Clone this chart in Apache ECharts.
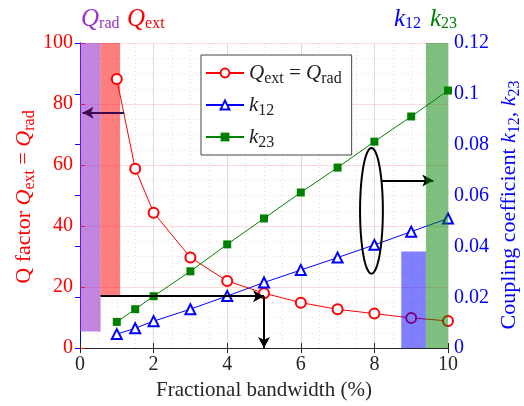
<!DOCTYPE html>
<html>
<head>
<meta charset="utf-8">
<script src="https://cdn.jsdelivr.net/npm/echarts@6/dist/echarts.min.js"></script>
<style>
  html, body { margin: 0; padding: 0; background: #fff; }
  #chart { width: 524px; height: 406px; }
</style>
</head>
<body>
<div id="chart"></div>
<script>
// 数据 (fractional bandwidth in %)
const bandwidth = [1, 1.5, 2, 3, 4, 5, 6, 7, 8, 9, 10];
const qExt = [88.2, 58.8, 44.4, 29.7, 22.0, 18.0, 14.9, 12.7, 11.3, 9.9, 8.9];
const k12 = [0.0055, 0.0078, 0.0106, 0.0153, 0.0205, 0.0258, 0.0307, 0.0356, 0.0406, 0.0458, 0.0510];
const k23 = [0.0103, 0.0153, 0.0204, 0.0302, 0.0408, 0.0510, 0.0612, 0.0710, 0.0812, 0.0911, 0.1013];

// shaded ranges: [x0, x1, y0, y1]
const qradBand = [0, 0.56, 5.4, 100];
const qextBand = [0.56, 1.09, 17.0, 100];
const k12Band = [8.73, 9.4, 0, 0.038];
const k23Band = [9.4, 10, 0, 0.12];

// annotation arrows in (bandwidth, Q) coords: [x0, y0, x1, y1]
const arrowDesign = [[0.56, 17.0, 5, 17.0], [5, 17.0, 5, 0]];
const arrowQrad = [1.2, 77.1, 0.07, 77.1];
const arrowK = [8.2, 54.9, 9.6, 54.9];
// ellipse: centre x, centre Q, radius x, radius Q
const ellipse = [7.92, 45.0, 0.31, 20.6];

const serif = 'serif';
const RED = '#ff0000', BLUE = '#0000ff', GREEN = '#008000', PURPLE = '#9933cc';

const chart = echarts.init(document.getElementById('chart'));

const zip = (xs, ys) => xs.map((x, i) => [x, ys[i]]);
const area = (b, color) => [{ xAxis: b[0], yAxis: b[2], itemStyle: { color: color } }, { xAxis: b[1], yAxis: b[3] }];
const arrow = (a, color) => [
  { coord: [a[0], a[1]], symbol: 'none', lineStyle: { color: color } },
  { coord: [a[2], a[3]], symbol: 'arrow' }
];

const subRich = {
  i: { fontFamily: serif, fontStyle: 'italic', fontSize: 21, lineHeight: 24 },
  n: { fontFamily: serif, fontSize: 21, lineHeight: 24 },
  s: { fontFamily: serif, fontSize: 16, lineHeight: 24, padding: [12, 0, 0, 0] }
};

const option = {
  animation: false,
  textStyle: { fontFamily: serif },
  grid: { left: 80, right: 76, top: 43, bottom: 57 },
  legend: {
    data: ['Q', 'k12', 'k23'],
    orient: 'vertical',
    left: 201,
    top: 55,
    width: 126,
    padding: [4, 10, 4, 4],
    itemGap: 4,
    itemWidth: 38,
    itemHeight: 11,
    backgroundColor: '#fff',
    borderColor: '#444',
    borderWidth: 1,
    textStyle: { color: '#222', fontFamily: serif, rich: subRich },
    formatter: (name) => ({
      Q: '{i|Q}{s|ext}{n| = }{i|Q}{s|rad}',
      k12: '{i|k}{s|12}',
      k23: '{i|k}{s|23}'
    })[name]
  },
  xAxis: [
    {
      type: 'value', min: 0, max: 10, interval: 2, position: 'bottom',
      name: 'Fractional bandwidth (%)', nameLocation: 'middle', nameGap: 31,
      nameTextStyle: { fontFamily: serif, fontSize: 21, color: '#262626' },
      axisLine: { lineStyle: { color: RED } },
      axisTick: { inside: true, length: 5, lineStyle: { color: '#262626' } },
      axisLabel: { fontFamily: serif, fontSize: 20, color: '#262626', margin: 7 },
      splitLine: { show: true, lineStyle: { color: '#dcdcdc' } },
      minorTick: { show: false, splitNumber: 4 },
      minorSplitLine: { show: true, lineStyle: { color: '#dddddd', type: [1, 3] } }
    },
    {
      type: 'value', min: 0, max: 10, interval: 2, position: 'top',
      axisLine: { lineStyle: { color: '#262626' } },
      axisTick: { inside: true, length: 5, lineStyle: { color: '#262626' } },
      axisLabel: { show: false },
      splitLine: { show: false }
    }
  ],
  yAxis: [
    {
      type: 'value', min: 0, max: 100, interval: 20, position: 'left',
      axisLine: { show: true, lineStyle: { color: RED } },
      axisTick: { show: true, inside: true, length: 5, lineStyle: { color: RED } },
      axisLabel: { fontFamily: serif, fontSize: 20, color: RED, margin: 7 },
      splitLine: { show: true, lineStyle: { color: 'rgba(255,0,0,0.15)' } },
      minorTick: { show: false, splitNumber: 4 },
      minorSplitLine: { show: true, lineStyle: { color: 'rgba(255,0,0,0.15)', type: [1, 3] } }
    },
    {
      type: 'value', min: 0, max: 0.12, interval: 0.02, position: 'right',
      axisLine: { show: true, lineStyle: { color: BLUE } },
      axisTick: { show: true, inside: true, length: 5, lineStyle: { color: BLUE } },
      axisLabel: { fontFamily: serif, fontSize: 20, color: BLUE, margin: 6 },
      splitLine: { show: false }
    }
  ],
  series: [
    {
      name: 'Q', type: 'line', xAxisIndex: 0, yAxisIndex: 0,
      data: zip(bandwidth, qExt),
      lineStyle: { width: 1, color: RED },
      symbol: 'emptyCircle', symbolSize: 10,
      itemStyle: { color: RED, borderWidth: 1 },
      z: 3,
      markArea: {
        silent: true,
        data: [area(qradBand, 'rgba(153,51,204,0.6)'), area(qextBand, 'rgba(255,0,0,0.5)')]
      },
      markLine: {
        silent: true,
        symbolSize: [9, 11],
        label: { show: false },
        lineStyle: { type: 'solid', width: 2, color: '#000' },
        data: arrowDesign.map(a => arrow(a, '#000'))
          .concat([arrow(arrowQrad, '#3d0a50'), arrow(arrowK, '#000')])
      }
    },
    {
      name: 'k12', type: 'line', xAxisIndex: 0, yAxisIndex: 1,
      data: zip(bandwidth, k12),
      lineStyle: { width: 1, color: BLUE },
      symbol: 'emptyTriangle', symbolSize: 10,
      itemStyle: { color: BLUE, borderWidth: 1.3 },
      z: 3
    },
    {
      name: 'k23', type: 'line', xAxisIndex: 0, yAxisIndex: 1,
      data: zip(bandwidth, k23),
      lineStyle: { width: 1, color: GREEN },
      symbol: 'rect', symbolSize: 8,
      itemStyle: { color: GREEN },
      z: 3
    },
    {
      name: 'bands', type: 'line', xAxisIndex: 0, yAxisIndex: 1,
      data: [], z: 6,
      markArea: {
        silent: true, z: 6,
        data: [area(k12Band, 'rgba(0,0,255,0.5)'), area(k23Band, 'rgba(0,128,0,0.5)')]
      }
    }
  ]
};

chart.setOption(option);

// ellipse and titles
const c = chart.convertToPixel({ xAxisIndex: 0, yAxisIndex: 0 }, [ellipse[0], ellipse[1]]);
const e = chart.convertToPixel({ xAxisIndex: 0, yAxisIndex: 0 }, [ellipse[0] + ellipse[2], ellipse[1] + ellipse[3]]);
const rx = Math.abs(e[0] - c[0]), ry = Math.abs(c[1] - e[1]);
const pts = [];
for (let i = 0; i < 72; i++) {
  const t = (i / 72) * Math.PI * 2;
  pts.push([c[0] + rx * Math.cos(t), c[1] + ry * Math.sin(t)]);
}

const big = (color) => ({
  q: { fontFamily: serif, fontStyle: 'italic', fontSize: 25, lineHeight: 30, fill: color },
  s: { fontFamily: serif, fontSize: 16, lineHeight: 30, padding: [10, 0, 0, 0], fill: color }
});
const titleRich = (color) => ({
  i: { fontFamily: serif, fontStyle: 'italic', fontSize: 22, lineHeight: 26, fill: color },
  n: { fontFamily: serif, fontSize: 22, lineHeight: 26, fill: color },
  s: { fontFamily: serif, fontSize: 16, lineHeight: 26, padding: [12, 0, 0, 0], fill: color }
});

chart.setOption({
  graphic: [
    {
      type: 'polygon', silent: true, z: 10,
      shape: { points: pts },
      style: { fill: 'none', stroke: '#000', lineWidth: 2 }
    },
    { type: 'text', left: 81, top: 6, silent: true, style: { text: '{q|Q}{s|rad}', rich: big(PURPLE) } },
    { type: 'text', left: 127, top: 6, silent: true, style: { text: '{q|Q}{s|ext}', rich: big(RED) } },
    { type: 'text', left: 394, top: 6, silent: true, style: { text: '{q|k}{s|12}', rich: big(BLUE) } },
    { type: 'text', left: 430, top: 6, silent: true, style: { text: '{q|k}{s|23}', rich: big(GREEN) } },
    {
      type: 'text', x: 24, y: 197, rotation: Math.PI / 2, silent: true,
      style: {
        text: '{n|Q factor }{i|Q}{s|ext}{n| = }{i|Q}{s|rad}',
        fill: RED, align: 'center', verticalAlign: 'middle', rich: titleRich(RED)
      }
    },
    {
      type: 'text', x: 509, y: 205, rotation: Math.PI / 2, silent: true,
      style: {
        text: '{n|Coupling coefficient }{i|k}{s|12}{n|, }{i|k}{s|23}',
        fill: BLUE, align: 'center', verticalAlign: 'middle', rich: titleRich(BLUE)
      }
    }
  ]
});

window.addEventListener('resize', () => chart.resize());
</script>
</body>
</html>
